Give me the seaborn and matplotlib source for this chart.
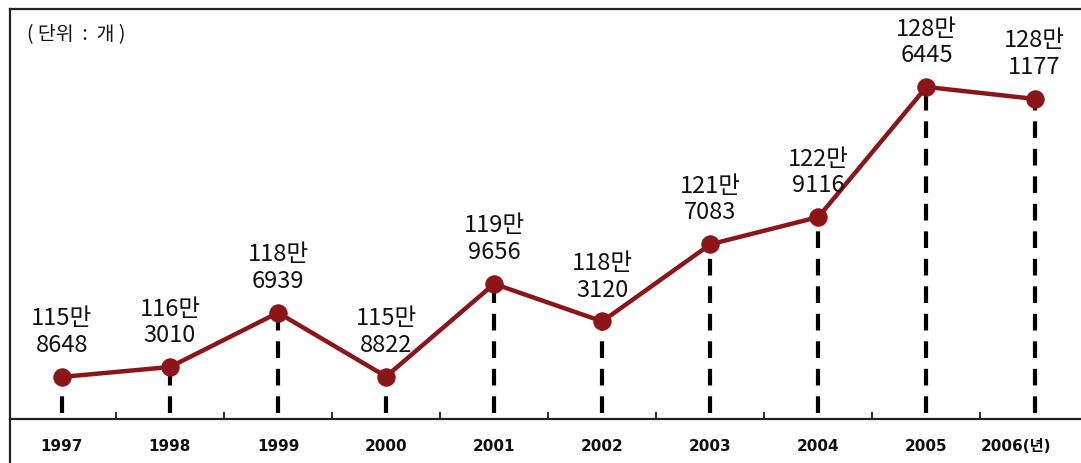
import numpy as np
import pandas as pd
import seaborn as sns
import matplotlib.pyplot as plt
from matplotlib.lines import Line2D
from matplotlib.transforms import ScaledTranslation

sns.set_theme(style="white")
plt.rcParams['font.family'] = ['Noto Sans CJK KR', 'DejaVu Sans']

years = ["1997", "1998", "1999", "2000", "2001", "2002", "2003", "2004", "2005", "2006(년)"]
values = [1158648, 1163010, 1186939, 1158822, 1199656, 1183120, 1217083, 1229116, 1286445, 1281177]
value_labels = ["115만\n8648", "116만\n3010", "118만\n6939", "115만\n8822", "119만\n9656",
                "118만\n3120", "121만\n7083", "122만\n9116", "128만\n6445", "128만\n1177"]
unit_text = "( 단위  :  개 )"

df = pd.DataFrame({"pos": np.arange(len(values)), "value": values})

fig = plt.figure(figsize=(10.81, 4.64), dpi=100)
ax = fig.add_axes([10 / 1081, 44 / 464, 1071 / 1081, 410 / 464])

y_low, y_high = 1140100, 1320800
ax.set_ylim(y_low, y_high)
ax.set_xlim(-0.48, 9.43)

# dashed drop lines from each point to the axis
ax.vlines(df["pos"], y_low + 2500, df["value"], colors="black", linewidth=3,
          linestyles=(0, (4, 2.6)), zorder=1)

sns.lineplot(data=df, x="pos", y="value", ax=ax, color="#8b1518", linewidth=3.2,
             marker="o", markersize=12.5, markeredgecolor="#8b1518", zorder=3)

for x, v, lab in zip(df["pos"], df["value"], value_labels):
    ax.annotate(lab, (x, v), xytext=(0, 15), textcoords="offset points",
                ha="center", va="bottom", fontsize=17, color="#111111",
                linespacing=1.2)

ax.text(0.016, 0.965, unit_text, transform=ax.transAxes, ha="left", va="top",
        fontsize=14, color="#111111")

ax.set_xlabel("")
ax.set_ylabel("")
ax.set_yticks([])
ax.set_xticks(df["pos"])
ax.set_xticklabels(years, fontsize=11, fontweight="bold", family=["DejaVu Sans", "Noto Sans CJK KR"])
ax.set_xticks(df["pos"][:-1] + 0.5, minor=True)
ax.tick_params(axis="x", which="major", length=0, pad=14, colors="#111111")
ax.tick_params(axis="x", which="minor", direction="in", length=5, width=1.3, color="#222222", bottom=True)

last = ax.get_xticklabels()[-1]
last.set_transform(last.get_transform() + ScaledTranslation(-0.19, 0, fig.dpi_scale_trans))

for side in ["left", "top", "bottom"]:
    ax.spines[side].set_color("#222222")
    ax.spines[side].set_linewidth(1.6)
ax.spines["right"].set_visible(False)

fig.add_artist(Line2D([10 / 1081, 10 / 1081], [0, 44 / 464], transform=fig.transFigure,
                      color="#222222", linewidth=1.6))

fig.savefig("out.png", dpi=100, facecolor="white")
